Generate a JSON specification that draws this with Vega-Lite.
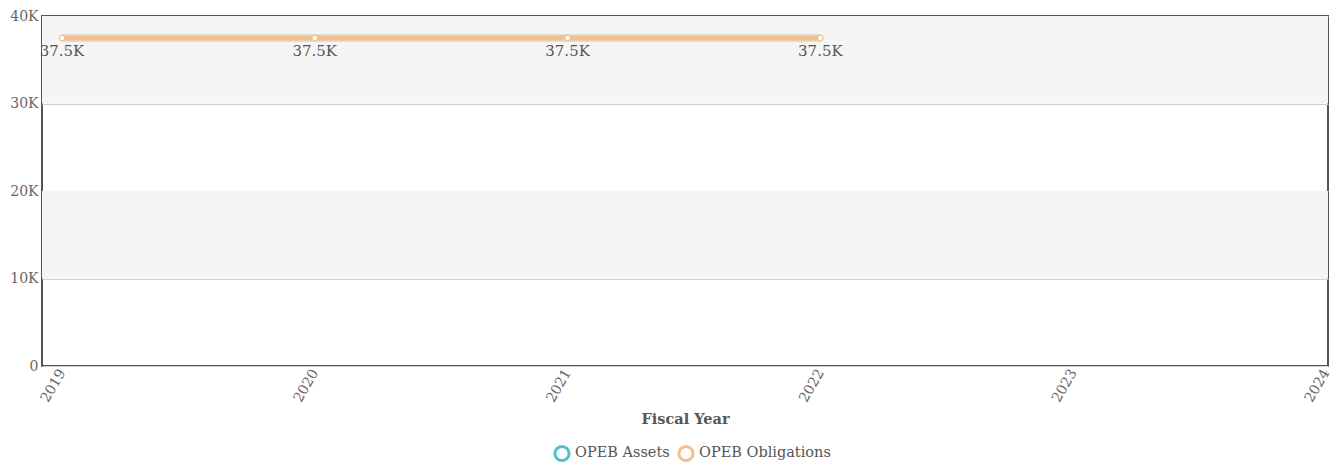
{
  "$schema": "https://vega.github.io/schema/vega-lite/v6.json",
  "width": 1286,
  "height": 350,
  "autosize": {"type": "none"},
  "padding": {"left": 42, "top": 16, "right": 12, "bottom": 99},
  "background": "white",
  "config": {
    "font": "DejaVu Serif",
    "view": {"stroke": "#555555", "strokeWidth": 2},
    "axis": {"labelFont": "DejaVu Serif", "titleFont": "DejaVu Serif", "labelColor": "#666", "titleColor": "#555", "labelFontSize": 14, "titleFontSize": 14}
  },
  "datasets": {
    "bands": [
      {"from": 30000, "to": 40000},
      {"from": 10000, "to": 20000}
    ],
    "series": [
      {"year": 2019, "series": "OPEB Obligations", "value": 37500},
      {"year": 2020, "series": "OPEB Obligations", "value": 37500},
      {"year": 2021, "series": "OPEB Obligations", "value": 37500},
      {"year": 2022, "series": "OPEB Obligations", "value": 37500}
    ]
  },
  "layer": [
    {
      "data": {"name": "bands"},
      "mark": {"type": "rect", "color": "#f5f5f5"},
      "encoding": {
        "y": {"field": "from", "type": "quantitative", "scale": {"domain": [0, 40000], "nice": false},
          "axis": {"values": [0, 10000, 20000, 30000, 40000], "labelExpr": "datum.value == 0 ? '0' : format(datum.value / 1000, 'd') + 'K'", "title": null, "grid": true, "gridColor": "#d0d0d0", "domain": false, "ticks": false, "labelPadding": 4, "labelFontSize": 14}},
        "y2": {"field": "to"}
      }
    },
    {
      "data": {"name": "series"},
      "layer": [
        {
          "mark": {"type": "line", "color": "#dedfd2", "strokeWidth": 8},
          "encoding": {}
        },
        {
          "mark": {"type": "line", "strokeWidth": 5},
          "encoding": {
            "color": {"field": "series", "type": "nominal",
              "scale": {"domain": ["OPEB Assets", "OPEB Obligations"], "range": ["#4cc3cc", "#f3bf8f"]},
              "legend": {"orient": "none", "legendX": 511, "legendY": 428, "direction": "horizontal", "title": null, "symbolType": "circle", "symbolSize": 200, "symbolStrokeWidth": 3, "symbolFillColor": "white", "labelFont": "DejaVu Serif", "labelFontSize": 14.5, "labelColor": "#555", "columnPadding": 2, "labelOffset": 4}}
          }
        },
        {
          "mark": {"type": "point", "filled": true, "fill": "white", "stroke": "#f3bf8f", "strokeWidth": 1.2, "size": 30, "opacity": 1},
          "encoding": {}
        },
        {
          "mark": {"type": "text", "dy": 13, "fontSize": 15, "color": "#555", "font": "DejaVu Serif", "text": {"expr": "format(datum.value / 1000, '.1f') + 'K'"}},
          "encoding": {}
        }
      ],
      "encoding": {
        "x": {"field": "year", "type": "quantitative", "scale": {"domain": [2018.921, 2024.008], "nice": false, "zero": false},
          "axis": {"values": [2019, 2020, 2021, 2022, 2023, 2024], "format": "d", "labelAngle": -60, "title": "Fiscal Year", "grid": false, "domain": false, "ticks": false, "labelPadding": 4, "titleFontWeight": "bold", "titlePadding": 8, "titleFontSize": 14.5}},
        "y": {"field": "value", "type": "quantitative"}
      }
    }
  ]
}
